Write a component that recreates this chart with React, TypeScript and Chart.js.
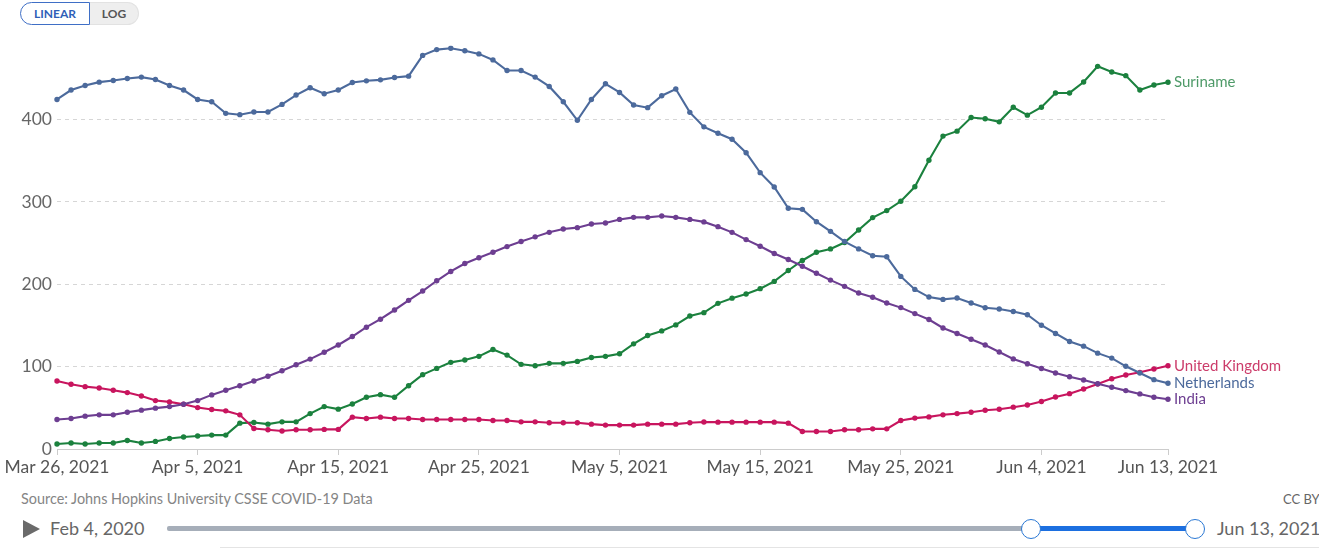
import React, { useEffect, useRef } from "react";
import { Chart, registerables } from "chart.js";

Chart.register(...registerables);

// ---- categories (daily, Mar 26, 2021 .. Jun 13, 2021) ----
const MONTHS = ["Jan", "Feb", "Mar", "Apr", "May", "Jun", "Jul", "Aug", "Sep", "Oct", "Nov", "Dec"];
const START = Date.UTC(2021, 2, 26);
const DAY_COUNT = 80;
const days: string[] = Array.from({ length: DAY_COUNT }, (_, i) => {
  const d = new Date(START + i * 86400000);
  return `${MONTHS[d.getUTCMonth()]} ${d.getUTCDate()}, ${d.getUTCFullYear()}`;
});

const xTickDays = [0, 10, 20, 30, 40, 50, 60, 70, 79];
const yTickValues = [0, 100, 200, 300, 400];

// ---- series ----
const netherlands = [
  424.5, 435.9, 441.5, 445.5, 447.5, 449.9, 451.6, 448.7, 441.5, 435.9,
  424.5, 421.7, 407.6, 406.0, 409.3, 409.3, 418.5, 429.8, 438.7, 431.4,
  435.9, 445.0, 447.1, 448.3, 451.1, 452.8, 478.0, 485.0, 486.6, 483.7,
  479.8, 472.5, 459.6, 459.6, 451.6, 440.3, 421.7, 399.2, 424.5, 443.5,
  433.0, 417.8, 414.5, 429.0, 437.1, 408.8, 391.2, 383.5, 376.2, 359.8,
  335.6, 318.2, 292.3, 291.0, 276.0, 264.3, 251.9, 243.0, 234.6, 233.4,
  209.6, 193.8, 184.5, 181.7, 183.3, 177.3, 171.5, 170.0, 167.0, 163.0,
  150.3, 140.3, 130.6, 124.9, 116.4, 110.4, 100.4, 92.3, 84.2, 79.8,
];

const suriname = [
  6.0, 7.3, 6.0, 7.3, 7.3, 10.4, 7.3, 9.2, 12.8, 14.5,
  15.7, 16.9, 16.9, 31.4, 32.2, 30.2, 33.0, 33.0, 43.0, 51.5,
  48.4, 54.6, 62.9, 66.0, 62.9, 76.9, 90.3, 97.9, 105.2, 108.0,
  112.5, 120.9, 114.0, 102.8, 101.1, 104.0, 104.0, 106.4, 111.2, 112.5,
  115.6, 127.7, 137.8, 143.4, 150.7, 161.5, 165.6, 176.9, 183.2, 188.2,
  194.7, 203.5, 216.8, 228.9, 238.9, 243.0, 250.7, 266.0, 281.0, 289.5,
  300.8, 318.4, 350.7, 380.0, 386.0, 402.6, 401.0, 397.3, 415.0, 405.4,
  415.0, 432.4, 432.4, 445.7, 464.7, 457.8, 453.4, 436.0, 442.0, 445.3,
];

const india = [
  35.8, 37.0, 39.9, 41.5, 41.5, 44.7, 47.2, 49.6, 51.5, 54.4,
  58.8, 65.7, 71.3, 76.9, 82.6, 88.3, 95.0, 102.3, 109.2, 117.5,
  126.3, 136.6, 147.9, 157.6, 168.8, 180.5, 191.8, 204.3, 215.6, 225.3,
  232.2, 238.9, 245.8, 251.9, 257.6, 263.1, 267.2, 268.8, 273.3, 274.5,
  278.8, 281.3, 281.3, 283.0, 281.3, 278.8, 275.8, 270.0, 263.1, 254.3,
  246.2, 237.4, 230.1, 222.0, 213.5, 205.1, 197.5, 189.4, 184.2, 177.3,
  171.7, 164.4, 157.2, 147.0, 140.3, 133.2, 126.3, 117.8, 109.4, 103.5,
  97.7, 92.3, 87.8, 83.8, 79.3, 75.0, 70.9, 66.9, 62.9, 60.5,
];

const unitedKingdom = [
  82.6, 78.6, 75.7, 74.1, 71.3, 68.5, 64.4, 58.8, 57.2, 54.4,
  50.3, 47.9, 46.3, 41.5, 24.9, 23.3, 21.8, 23.3, 23.3, 23.8,
  23.8, 38.7, 37.0, 38.7, 37.0, 37.0, 35.8, 35.8, 35.8, 35.8,
  35.8, 34.6, 34.6, 33.0, 33.0, 31.8, 31.8, 31.8, 30.2, 29.0,
  29.0, 29.0, 30.2, 30.2, 30.2, 31.8, 32.8, 32.6, 32.6, 32.6,
  32.6, 32.6, 31.4, 21.3, 21.3, 21.3, 23.3, 23.3, 24.5, 24.5,
  34.6, 37.5, 39.0, 41.5, 43.0, 44.7, 47.0, 48.2, 50.8, 53.4,
  57.6, 63.2, 67.2, 72.9, 79.0, 85.4, 89.8, 93.1, 97.1, 101.1,
];

const seriesNames = ["Netherlands", "India", "United Kingdom", "Suriname"];
const seriesData = [netherlands, india, unitedKingdom, suriname];
const lineColors = ["#4c6a9c", "#6d3e91", "#c8155e", "#1b813e"];
const labelColors = ["#4c6a9c", "#6d3e91", "#cc3d6b", "#4e9a68"];

const FONT = "Lato, 'Noto Sans', sans-serif";

const endLabels = {
  id: "endLabels",
  afterDatasetsDraw(chart: any) {
    const ctx = chart.ctx;
    ctx.save();
    ctx.font = `15px ${FONT}`;
    ctx.textBaseline = "middle";
    ctx.textAlign = "left";
    chart.data.datasets.forEach((ds: any, i: number) => {
      const meta = chart.getDatasetMeta(i);
      const pt = meta.data[meta.data.length - 1];
      if (!pt) return;
      ctx.fillStyle = labelColors[i];
      ctx.fillText(ds.label, pt.x + 6, pt.y);
    });
    ctx.restore();
  },
};

function LineChart() {
  const ref = useRef<HTMLCanvasElement | null>(null);
  useEffect(() => {
    if (!ref.current) return;
    const chart = new Chart(ref.current, {
      type: "line",
      data: {
        labels: days,
        datasets: seriesData.map((d, i) => ({
          label: seriesNames[i],
          data: d,
          borderColor: lineColors[i],
          backgroundColor: lineColors[i],
          pointBackgroundColor: lineColors[i],
          pointBorderWidth: 0,
          pointRadius: 2.7,
          borderWidth: 2.1,
          tension: 0,
          fill: false,
        })),
      },
      options: {
        animation: false,
        responsive: true,
        maintainAspectRatio: false,
        events: [],
        layout: { padding: { top: 14, right: 151, left: 0, bottom: 0 } },
        plugins: { legend: { display: false }, tooltip: { enabled: false } },
        scales: {
          x: {
            type: "category",
            offset: false,
            afterFit: (s: any) => { s.height = 36; },
            border: { display: true, color: "#cccccc", width: 1 },
            grid: {
              display: true,
              drawOnChartArea: false,
              drawTicks: true,
              tickLength: 6,
              color: (c: any) => (xTickDays.includes(c.index) ? "#cccccc" : "rgba(0,0,0,0)"),
            },
            ticks: {
              autoSkip: false,
              maxRotation: 0,
              minRotation: 0,
              padding: 2,
              color: "#555555",
              font: { family: FONT, size: 17.5 },
              callback: (_v: any, index: number) => (xTickDays.includes(index) ? days[index] : ""),
            },
          },
          y: {
            type: "linear",
            min: 0,
            max: 490,
            afterFit: (s: any) => { s.width = 57; },
            afterBuildTicks: (s: any) => {
              s.ticks = yTickValues.map((v) => ({ value: v }));
            },
            border: { display: false, dash: [4, 4] },
            grid: {
              drawTicks: false,
              color: (c: any) => (c.tick && c.tick.value === 0 ? "rgba(0,0,0,0)" : "#d6d6d6"),
              lineWidth: 1,
            },
            ticks: {
              padding: 5,
              color: "#666666",
              font: { family: FONT, size: 17.5 },
            },
          } as any,
        },
      },
      plugins: [endLabels],
    } as any);
    if ((document as any).fonts && (document as any).fonts.ready) {
      (document as any).fonts.ready.then(() => chart.update());
    }
    return () => chart.destroy();
  }, []);
  return <canvas ref={ref} />;
}

export default function App() {
  const grey = "#666666";
  return (
    <div
      style={{
        position: "fixed",
        left: 0,
        top: 0,
        width: 1319,
        height: 549,
        background: "#ffffff",
        overflow: "hidden",
        fontFamily: FONT,
      }}
    >
      {/* scale toggle */}
      <div style={{ position: "absolute", left: 20, top: 2, display: "flex", height: 23 }}>
        <div
          style={{
            width: 68,
            height: 21,
            border: "1px solid #3f6fc6",
            borderRadius: "12px 0 0 12px",
            color: "#2f5fb8",
            fontSize: 12,
            fontWeight: 700,
            lineHeight: "21px",
            textAlign: "center",
            background: "#fff",
          }}
        >
          LINEAR
        </div>
        <div
          style={{
            width: 48,
            height: 21,
            border: "1px solid #e2e2e2",
            borderLeft: "none",
            borderRadius: "0 12px 12px 0",
            color: "#555",
            fontSize: 12,
            fontWeight: 700,
            lineHeight: "21px",
            textAlign: "center",
            background: "#eeeeee",
          }}
        >
          LOG
        </div>
      </div>

      {/* chart */}
      <div style={{ position: "absolute", left: 0, top: 30, width: 1319, height: 455 }}>
        <LineChart />
      </div>

      {/* footer */}
      <div style={{ position: "absolute", left: 21, top: 490, fontSize: 14.4, color: "#858585", whiteSpace: "nowrap" }}>
        Source: Johns Hopkins University CSSE COVID-19 Data
      </div>
      <div style={{ position: "absolute", left: 1283, top: 491, fontSize: 13, color: grey, whiteSpace: "nowrap" }}>
        CC BY
      </div>

      {/* timeline */}
      <div
        style={{
          position: "absolute",
          left: 23,
          top: 520,
          width: 0,
          height: 0,
          borderLeft: "17px solid #6a6a6a",
          borderTop: "9px solid transparent",
          borderBottom: "9px solid transparent",
        }}
      />
      <div style={{ position: "absolute", left: 50, top: 517, fontSize: 18, color: grey, whiteSpace: "nowrap" }}>
        Feb 4, 2020
      </div>
      <div style={{ position: "absolute", left: 167, top: 526, width: 1028, height: 5, background: "#a6aeb9", borderRadius: 2 }} />
      <div style={{ position: "absolute", left: 1031, top: 526, width: 164, height: 5, background: "#1c6fe0" }} />
      <div
        style={{
          position: "absolute",
          left: 1021,
          top: 519,
          width: 18,
          height: 18,
          borderRadius: "50%",
          border: "1.5px solid #2a78d4",
          background: "#fff",
        }}
      />
      <div
        style={{
          position: "absolute",
          left: 1185,
          top: 519,
          width: 18,
          height: 18,
          borderRadius: "50%",
          border: "1.5px solid #2a78d4",
          background: "#fff",
        }}
      />
      <div style={{ position: "absolute", left: 1217, top: 517, fontSize: 18, color: grey, whiteSpace: "nowrap" }}>
        Jun 13, 2021
      </div>
      <div style={{ position: "absolute", left: 220, top: 547, width: 1099, height: 1, background: "#e4e4e4" }} />
    </div>
  );
}
